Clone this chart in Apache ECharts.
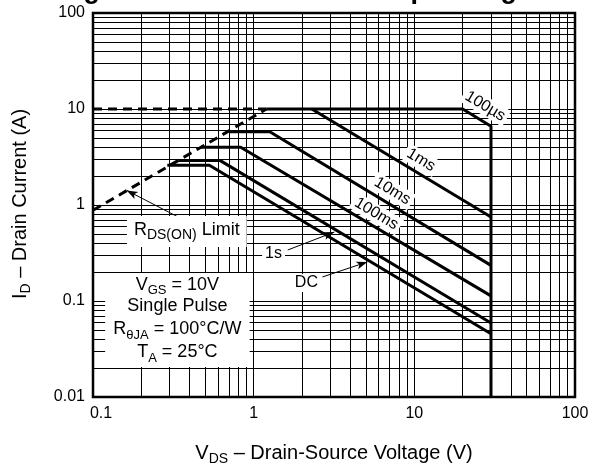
<!DOCTYPE html>
<html><head><meta charset="utf-8">
<script src="https://cdn.jsdelivr.net/npm/echarts@6/dist/echarts.min.js"></script>
<style>html,body{margin:0;padding:0;background:#fff}#c{width:596px;height:466px}</style>
</head><body><div id="c"></div>
<script>
const FONT = '"Liberation Sans", Arial, Helvetica, sans-serif';

// axes
const xRange = [0.1, 100];
const yRange = [0.01, 100];
const xDecades = [0.1, 1, 10];
const yDecades = [0.01, 0.1, 1, 10];
const minorSteps = [2, 3, 4, 5, 6, 7, 8, 9];

// curves [V_DS, I_D]
const rdsLimit     = [[0.1, 0.88], [1.2, 10]];
const currentLimit = [[0.1, 10], [1.2, 10]];
const pulse100us   = [[1.2, 10], [20, 10], [30, 6.6], [30, 0.01]];
const pulse1ms     = [[2.3, 10], [30, 0.75]];
const pulse10ms    = [[0.71, 5.8], [1.26, 5.8], [30, 0.235]];
const pulse100ms   = [[0.47, 4.0], [0.83, 4.0], [30, 0.113]];
const pulse1s      = [[0.34, 2.9], [0.62, 2.9], [30, 0.059]];
const pulseDC      = [[0.29, 2.6], [0.53, 2.6], [30, 0.0455]];

// annotation texts
const curveLabels = ['100\u00b5s', '1ms', '10ms', '100ms'];
const conditionLines = [
  '{n|V}{s|GS}{n| = 10V}',
  '{n|Single Pulse}',
  '{n|R}{s|\u03b8JA}{n| = 100\u00b0C/W}',
  '{n|T}{s|A}{n| = 25\u00b0C}'
];

const xMinor = xDecades.flatMap(d => minorSteps.map(m => +(m * d).toPrecision(3)));
const yMinor = yDecades.flatMap(d => minorSteps.map(m => +(m * d).toPrecision(3)));

const chart = echarts.init(document.getElementById('c'), null, {renderer: 'canvas'});

function curve(name, data, dashed) {
  return {
    name, type: 'line', data, z: 10, showSymbol: false, symbol: 'none', silent: true,
    lineStyle: {color: '#000', width: 3, type: dashed ? [9, 6] : 'solid', cap: 'butt'},
    animation: false
  };
}

const arrowStyle = {color: '#000', width: 1, type: 'solid'};

chart.setOption({
  animation: false,
  grid: {left: 93, right: 21, top: 13, bottom: 69, show: true, borderColor: '#000', borderWidth: 2.5, backgroundColor: '#fff'},
  xAxis: {
    type: 'log', logBase: 10, min: xRange[0], max: xRange[1],
    axisLine: {show: false}, axisTick: {show: false},
    splitLine: {show: true, lineStyle: {color: '#000', width: 1}},
    axisLabel: {
      fontSize: 16, color: '#000', fontFamily: FONT, margin: 9,
      formatter: v => Math.abs(v - 0.1) < 1e-9 ? '{f|0.1}' : String(+v.toPrecision(3)),
      rich: {f: {fontSize: 16, fontFamily: FONT, color: '#000', padding: [0, 0, 0, 16]}}
    }
  },
  yAxis: {
    type: 'log', logBase: 10, min: yRange[0], max: yRange[1],
    axisLine: {show: false}, axisTick: {show: false},
    splitLine: {show: true, lineStyle: {color: '#000', width: 1}},
    axisLabel: {fontSize: 16, color: '#000', fontFamily: FONT, margin: 8,
      formatter: v => String(+v.toPrecision(3))}
  },
  series: [
    {
      type: 'line', data: [], z: 1, silent: true,
      markLine: {
        silent: true, symbol: 'none', animation: false, label: {show: false},
        lineStyle: {color: '#000', width: 1, type: 'solid'},
        emphasis: {disabled: true},
        data: xMinor.map(v => ({xAxis: v})).concat(yMinor.map(v => ({yAxis: v})))
      }
    },
    curve('RDS(ON) Limit', rdsLimit, true),
    curve('Current Limit', currentLimit, true),
    curve('100us', pulse100us),
    curve('1ms', pulse1ms),
    curve('10ms', pulse10ms),
    curve('100ms', pulse100ms),
    curve('1s', pulse1s),
    curve('DC', pulseDC),
    {
      type: 'line', data: [], z: 9, silent: true,
      markLine: {
        silent: true, symbol: ['none', 'arrow'], symbolSize: [6, 11], animation: false,
        label: {show: false}, lineStyle: arrowStyle, emphasis: {disabled: true},
        data: [
          [{coord: [0.389, 0.665]}, {coord: [0.162, 1.42]}],
          [{coord: [1.63, 0.34]}, {coord: [3.18, 0.523]}],
          [{coord: [2.68, 0.178]}, {coord: [5.1, 0.255]}]
        ]
      }
    }
  ]
});

const P = (x, y) => chart.convertToPixel({gridIndex: 0}, [x, y]);

function rectBetween(a, b) {
  const p1 = P(a[0], a[1]), p2 = P(b[0], b[1]);
  return {type: 'rect', z: 5, silent: true,
    shape: {x: Math.min(p1[0], p2[0]), y: Math.min(p1[1], p2[1]), width: Math.abs(p2[0] - p1[0]), height: Math.abs(p2[1] - p1[1])},
    style: {fill: '#fff'}};
}
function label(x, y, text, size, rot) {
  const p = P(x, y);
  return {type: 'text', z: 6, silent: true, x: p[0], y: p[1], rotation: (rot || 0) * Math.PI / 180,
    style: {text, fontSize: size, fontFamily: FONT, fill: '#000', align: 'center', verticalAlign: 'middle',
      backgroundColor: '#fff', padding: [1, 3]}};
}
const sub = (n, s) => ({
  n: {fontSize: n, fontFamily: FONT, fill: '#000', color: '#000', verticalAlign: 'bottom', padding: [0, 0, 3, 0]},
  s: {fontSize: s, fontFamily: FONT, fill: '#000', color: '#000', verticalAlign: 'bottom'}
});

const box = rectBetween([0.119, 0.196], [0.944, 0.0205]);
const boxCx = box.shape.x + box.shape.width / 2;
const condY = [0.143, 0.0845, 0.0487, 0.0281];
const rdsBox = rectBetween([0.1626, 0.768], [0.905, 0.365]);

const graphics = [
  {type: 'text', z: 6, silent: true, x: 322, y: 4,
    style: {text: 'Figure 11. Maximum Safe Operating Area', font: 'bold 27px ' + FONT, fill: '#000', align: 'center', verticalAlign: 'bottom'}},
  {type: 'text', z: 6, silent: true, x: 334, y: 455,
    style: {text: '{n|V}{s|DS}{n| \u2013 Drain-Source Voltage (V)}', rich: sub(20, 14), align: 'center', verticalAlign: 'middle'}},
  {type: 'text', z: 6, silent: true, x: 22, y: 204, rotation: Math.PI / 2,
    style: {text: '{n|I}{s|D}{n| \u2013 Drain Current (A)}', rich: sub(20, 14), align: 'center', verticalAlign: 'middle'}},
  box,
  rdsBox,
  {type: 'text', z: 6, silent: true, x: rdsBox.shape.x + rdsBox.shape.width / 2, y: rdsBox.shape.y + rdsBox.shape.height / 2,
    style: {text: '{n|R}{s|DS(ON)}{n| Limit}', rich: sub(18, 14), align: 'center', verticalAlign: 'middle'}},
  ...conditionLines.map((t, i) => ({type: 'text', z: 6, silent: true, x: boxCx, y: P(0.333, condY[i])[1],
    style: {text: t, rich: sub(18, 13), align: 'center', verticalAlign: 'middle'}})),
  label(27.6, 10.7, curveLabels[0], 16, -31),
  label(11.0, 2.94, curveLabels[1], 16, -31),
  label(7.3, 1.40, curveLabels[2], 16, -31),
  label(5.8, 0.81, curveLabels[3], 16, -31),
  label(1.33, 0.309, '1s', 16, 0),
  label(2.13, 0.154, 'DC', 16, 0)
];
chart.setOption({graphic: graphics});
</script>
</body></html>
